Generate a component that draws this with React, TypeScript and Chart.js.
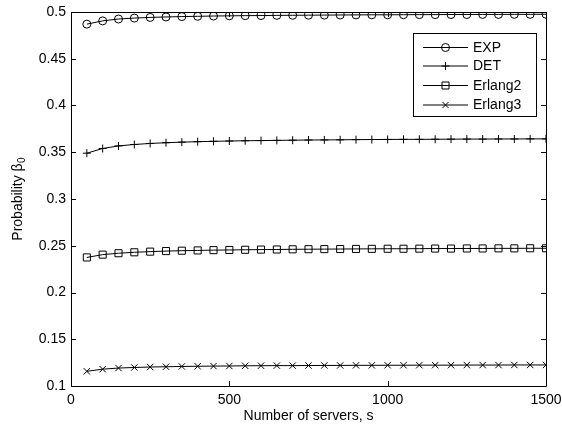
import React, { useEffect, useRef } from "react";
import { Chart, registerables } from "chart.js";

Chart.register(...registerables);

const servers = [50, 100, 150, 200, 250, 300, 350, 400, 450, 500, 550, 600, 650, 700, 750, 800, 850, 900, 950, 1000, 1050, 1100, 1150, 1200, 1250, 1300, 1350, 1400, 1450, 1500];
const expValues = [0.487, 0.4905, 0.4925, 0.4935, 0.4942, 0.4947, 0.4951, 0.4954, 0.4957, 0.4959, 0.4961, 0.4962, 0.4964, 0.4965, 0.4966, 0.4967, 0.4968, 0.4969, 0.497, 0.497, 0.4971, 0.4972, 0.4972, 0.4973, 0.4973, 0.4974, 0.4974, 0.4975, 0.4975, 0.4976];
const detValues = [0.349, 0.354, 0.3568, 0.3583, 0.3594, 0.3602, 0.3608, 0.3613, 0.3617, 0.362, 0.3623, 0.3625, 0.3627, 0.3629, 0.3631, 0.3632, 0.3633, 0.3635, 0.3636, 0.3637, 0.3638, 0.3638, 0.3639, 0.364, 0.3641, 0.3641, 0.3642, 0.3642, 0.3643, 0.3643];
const erlang2Values = [0.2375, 0.2405, 0.242, 0.243, 0.2437, 0.2443, 0.2447, 0.245, 0.2453, 0.2455, 0.2457, 0.2459, 0.246, 0.2462, 0.2463, 0.2464, 0.2465, 0.2466, 0.2467, 0.2468, 0.2468, 0.2469, 0.247, 0.247, 0.2471, 0.2471, 0.2472, 0.2472, 0.2473, 0.2473];
const erlang3Values = [0.1157, 0.118, 0.1192, 0.1198, 0.1203, 0.1206, 0.1209, 0.1211, 0.1213, 0.1214, 0.1216, 0.1217, 0.1218, 0.1218, 0.1219, 0.122, 0.122, 0.1221, 0.1221, 0.1222, 0.1222, 0.1223, 0.1223, 0.1223, 0.1224, 0.1224, 0.1224, 0.1225, 0.1225, 0.1225];
const seriesNames = ["EXP", "DET", "Erlang2", "Erlang3"];
const xTickValues = [0, 500, 1000, 1500];
const yTickValues = [0.1, 0.15, 0.2, 0.25, 0.3, 0.35, 0.4, 0.45, 0.5];
const yTitleMain = "Probability β";
const yTitleSub = "0";

const FONT = "'Liberation Sans', Arial, Helvetica, sans-serif";
const styles = [
  { pointStyle: "circle", radius: 4 },
  { pointStyle: "cross", radius: 4 },
  { pointStyle: "rect", radius: 5 },
  { pointStyle: "crossRot", radius: 4.5 },
];

function drawMarker(ctx: CanvasRenderingContext2D, style: string, x: number, y: number) {
  ctx.beginPath();
  if (style === "circle") {
    ctx.arc(x, y, 4, 0, Math.PI * 2);
  } else if (style === "cross") {
    ctx.moveTo(x - 4, y); ctx.lineTo(x + 4, y);
    ctx.moveTo(x, y - 4); ctx.lineTo(x, y + 4);
  } else if (style === "rect") {
    ctx.rect(x - 3.5, y - 3.5, 7, 7);
  } else {
    ctx.moveTo(x - 3, y - 3); ctx.lineTo(x + 3, y + 3);
    ctx.moveTo(x - 3, y + 3); ctx.lineTo(x + 3, y - 3);
  }
  ctx.stroke();
}

const framePlugin = {
  id: "frame",
  afterDraw(chart: any) {
    const { ctx, chartArea, scales } = chart;
    const { left, right, top, bottom } = chartArea;
    ctx.save();
    ctx.strokeStyle = "#000";
    ctx.lineWidth = 1;
    ctx.beginPath();
    ctx.rect(Math.round(left) + 0.5, Math.round(top) + 0.5, Math.round(right - left), Math.round(bottom - top));
    ctx.stroke();
    const tl = 5;
    ctx.beginPath();
    for (const v of xTickValues) {
      const px = Math.round(scales.x.getPixelForValue(v)) + 0.5;
      ctx.moveTo(px, bottom); ctx.lineTo(px, bottom - tl);
      ctx.moveTo(px, top); ctx.lineTo(px, top + tl);
    }
    for (const v of yTickValues) {
      const py = Math.round(scales.y.getPixelForValue(v)) + 0.5;
      ctx.moveTo(left, py); ctx.lineTo(left + tl, py);
      ctx.moveTo(right, py); ctx.lineTo(right - tl, py);
    }
    ctx.stroke();

    // y axis title with subscript
    ctx.fillStyle = "#000";
    ctx.textBaseline = "alphabetic";
    ctx.textAlign = "left";
    ctx.font = `14px ${FONT}`;
    const wMain = ctx.measureText(yTitleMain).width;
    ctx.font = `10px ${FONT}`;
    const wSub = ctx.measureText(yTitleSub).width;
    const total = wMain + wSub + 0.5;
    const cy = (top + bottom) / 2;
    ctx.save();
    ctx.translate(21.5, cy);
    ctx.rotate(-Math.PI / 2);
    ctx.font = `14px ${FONT}`;
    ctx.fillText(yTitleMain, -total / 2, 0);
    ctx.font = `10px ${FONT}`;
    ctx.fillText(yTitleSub, -total / 2 + wMain + 0.5, 3);
    ctx.restore();

    // legend
    const bx = 413.5, by = 33.5, bw = 123, bh = 83;
    ctx.fillStyle = "#fff";
    ctx.fillRect(bx, by, bw, bh);
    ctx.strokeRect(bx, by, bw, bh);
    ctx.font = `14px ${FONT}`;
    ctx.textBaseline = "middle";
    ctx.textAlign = "left";
    const rows = [47, 65.5, 85, 104.5];
    seriesNames.forEach((name, i) => {
      const y = rows[i] + 0.5;
      ctx.beginPath();
      ctx.moveTo(423, y); ctx.lineTo(468, y);
      ctx.stroke();
      drawMarker(ctx, styles[i].pointStyle, 445.5, y);
      ctx.fillStyle = "#000";
      ctx.fillText(name, 473, rows[i] + 1);
    });
    ctx.restore();
  },
};

export default function App() {
  const ref = useRef<HTMLCanvasElement>(null);
  useEffect(() => {
    if (!ref.current) return;
    const series = [expValues, detValues, erlang2Values, erlang3Values];
    const chart = new Chart(ref.current, {
      type: "line",
      data: {
        datasets: series.map((vals, i) => ({
          label: seriesNames[i],
          data: vals.map((v, j) => ({ x: servers[j], y: v })),
          borderColor: "#000",
          borderWidth: 1,
          backgroundColor: "transparent",
          pointStyle: styles[i].pointStyle as any,
          pointRadius: styles[i].radius,
          pointBorderColor: "#000",
          pointBackgroundColor: "transparent",
          pointBorderWidth: 1,
          tension: 0,
          fill: false,
        })),
      },
      options: {
        animation: false,
        responsive: false,
        maintainAspectRatio: false,
        layout: { padding: { left: 0, right: 16, top: 12, bottom: 0 } },
        plugins: { legend: { display: false }, tooltip: { enabled: false } },
        scales: {
          x: {
            type: "linear",
            min: 0,
            max: 1500,
            afterBuildTicks: (s: any) => { s.ticks = xTickValues.map((v) => ({ value: v })); },
            afterFit: (s: any) => { s.height = 42; s.paddingLeft = 0; s.paddingRight = 0; },
            grid: { display: false, drawTicks: false },
            border: { display: false },
            ticks: { color: "#000", font: { size: 14, family: FONT }, padding: 6, callback: (v: any) => String(v), maxRotation: 0 },
            title: { display: true, text: "Number of servers, s", color: "#000", font: { size: 14, family: FONT }, padding: { top: 0, bottom: 3 } },
          },
          y: {
            type: "linear",
            min: 0.1,
            max: 0.5,
            afterBuildTicks: (s: any) => { s.ticks = yTickValues.map((v) => ({ value: v })); },
            afterFit: (s: any) => { s.width = 71; s.paddingTop = 0; s.paddingBottom = 0; },
            grid: { display: false, drawTicks: false },
            border: { display: false },
            ticks: { color: "#000", font: { size: 14, family: FONT }, padding: 5, callback: (v: any) => String(Number(Number(v).toFixed(2))) },
            title: { display: false },
          },
        },
      },
      plugins: [framePlugin],
    });
    return () => chart.destroy();
  }, []);
  return (
    <div style={{ position: "fixed", left: 0, top: 0, width: 562, height: 428, background: "#fff" }}>
      <canvas ref={ref} width={562} height={428} style={{ display: "block" }} />
    </div>
  );
}
